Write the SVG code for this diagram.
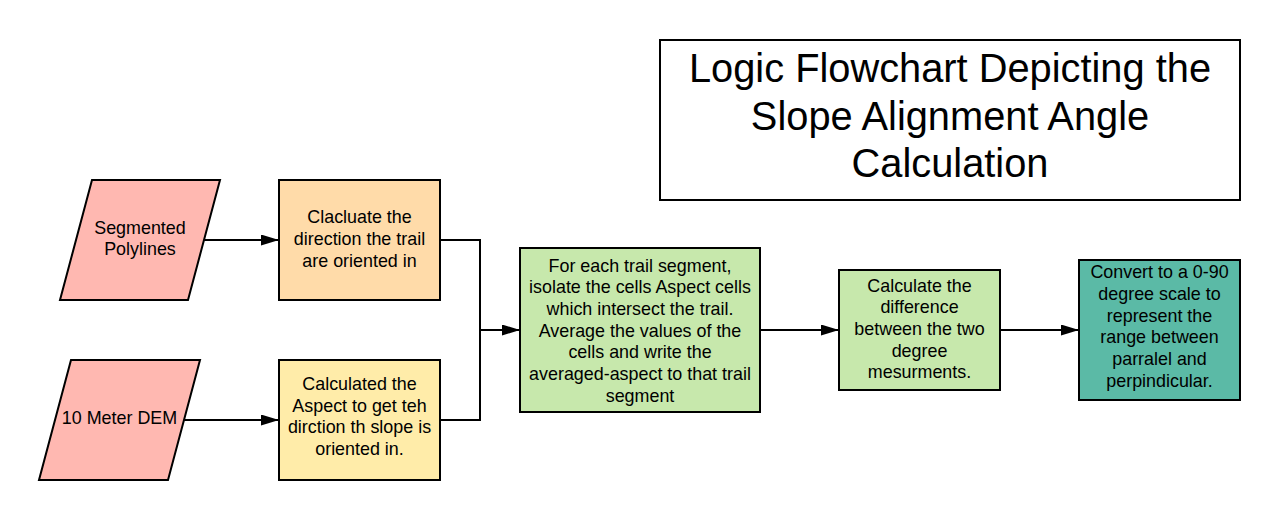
<svg xmlns="http://www.w3.org/2000/svg" width="1280" height="520" viewBox="0 0 1280 520">
<defs>
<style>
.shape{stroke:#000;stroke-width:2}
.t{font-family:"Liberation Sans",Arial,sans-serif;font-size:17.9px;fill:#000;text-anchor:middle}
.title{font-family:"Liberation Sans",Arial,sans-serif;font-size:39.8px;fill:#000;text-anchor:middle}
.conn{fill:none;stroke:#000;stroke-width:2}
</style>
<marker id="arr" viewBox="0 0 18 11" refX="18" refY="5.5" markerWidth="18" markerHeight="11" markerUnits="userSpaceOnUse" orient="auto">
<path d="M0,0 L18,5.5 L0,11 Z" fill="#000"/>
</marker>
</defs>
<rect width="1280" height="520" fill="#fff"/>

<g id="title">
<rect x="660" y="40" width="580" height="160" fill="#fff" class="shape"/>
<text class="title" x="950" y="82">Logic Flowchart Depicting the</text>
<text class="title" x="950" y="129.5">Slope Alignment Angle</text>
<text class="title" x="950" y="177">Calculation</text>
</g>

<g id="connectors">
<line class="conn" x1="204" y1="240" x2="279" y2="240" marker-end="url(#arr)"/>
<line class="conn" x1="184" y1="420" x2="279" y2="420" marker-end="url(#arr)"/>
<polyline class="conn" points="440,240 480,240 480,420 440,420"/>
<line class="conn" x1="480" y1="330" x2="520" y2="330" marker-end="url(#arr)"/>
<line class="conn" x1="760" y1="330" x2="839" y2="330" marker-end="url(#arr)"/>
<line class="conn" x1="1000" y1="330" x2="1079" y2="330" marker-end="url(#arr)"/>
</g>

<g id="segmented-polylines">
<polygon class="shape" points="92,180 220,180 188,300 60,300" fill="#ffb8b1"/>
<text class="t" x="140" y="233.5">Segmented</text>
<text class="t" x="140" y="255">Polylines</text>
</g>

<g id="dem">
<polygon class="shape" points="71,360 200,360 168,480 39,480" fill="#ffb8b1"/>
<text class="t" x="119.5" y="423.5">10 Meter DEM</text>
</g>

<g id="calc-direction">
<rect class="shape" x="279" y="180" width="161" height="120" fill="#ffdba9"/>
<text class="t" x="359.5" y="223">Clacluate the</text>
<text class="t" x="359.5" y="245">direction the trail</text>
<text class="t" x="359.5" y="267">are oriented in</text>
</g>

<g id="calc-aspect">
<rect class="shape" x="279" y="360" width="161" height="120" fill="#ffeca9"/>
<text class="t" x="359.5" y="390">Calculated the</text>
<text class="t" x="359.5" y="411.7">Aspect to get teh</text>
<text class="t" x="359.5" y="433.3">dirction th slope is</text>
<text class="t" x="359.5" y="455">oriented in.</text>
</g>

<g id="average-aspect">
<rect class="shape" x="520" y="248" width="240" height="164" fill="#c7e8ac"/>
<text class="t" x="640" y="271.7">For each trail segment,</text>
<text class="t" x="640" y="293.3">isolate the cells Aspect cells</text>
<text class="t" x="640" y="315">which intersect the trail.</text>
<text class="t" x="640" y="336.7">Average the values of the</text>
<text class="t" x="640" y="358.3">cells and write the</text>
<text class="t" x="640" y="380">averaged-aspect to that trail</text>
<text class="t" x="640" y="401.7">segment</text>
</g>

<g id="difference">
<rect class="shape" x="839" y="270" width="161" height="120" fill="#c7e8ac"/>
<text class="t" x="919.5" y="291.7">Calculate the</text>
<text class="t" x="919.5" y="313.3">difference</text>
<text class="t" x="919.5" y="335">between the two</text>
<text class="t" x="919.5" y="356.7">degree</text>
<text class="t" x="919.5" y="378.3">mesurments.</text>
</g>

<g id="convert">
<rect class="shape" x="1079" y="260" width="161" height="140" fill="#5bbaa6"/>
<text class="t" x="1159.5" y="278.3">Convert to a 0-90</text>
<text class="t" x="1159.5" y="300">degree scale to</text>
<text class="t" x="1159.5" y="321.7">represent the</text>
<text class="t" x="1159.5" y="343.3">range between</text>
<text class="t" x="1159.5" y="365">parralel and</text>
<text class="t" x="1159.5" y="386.7">perpindicular.</text>
</g>
</svg>
